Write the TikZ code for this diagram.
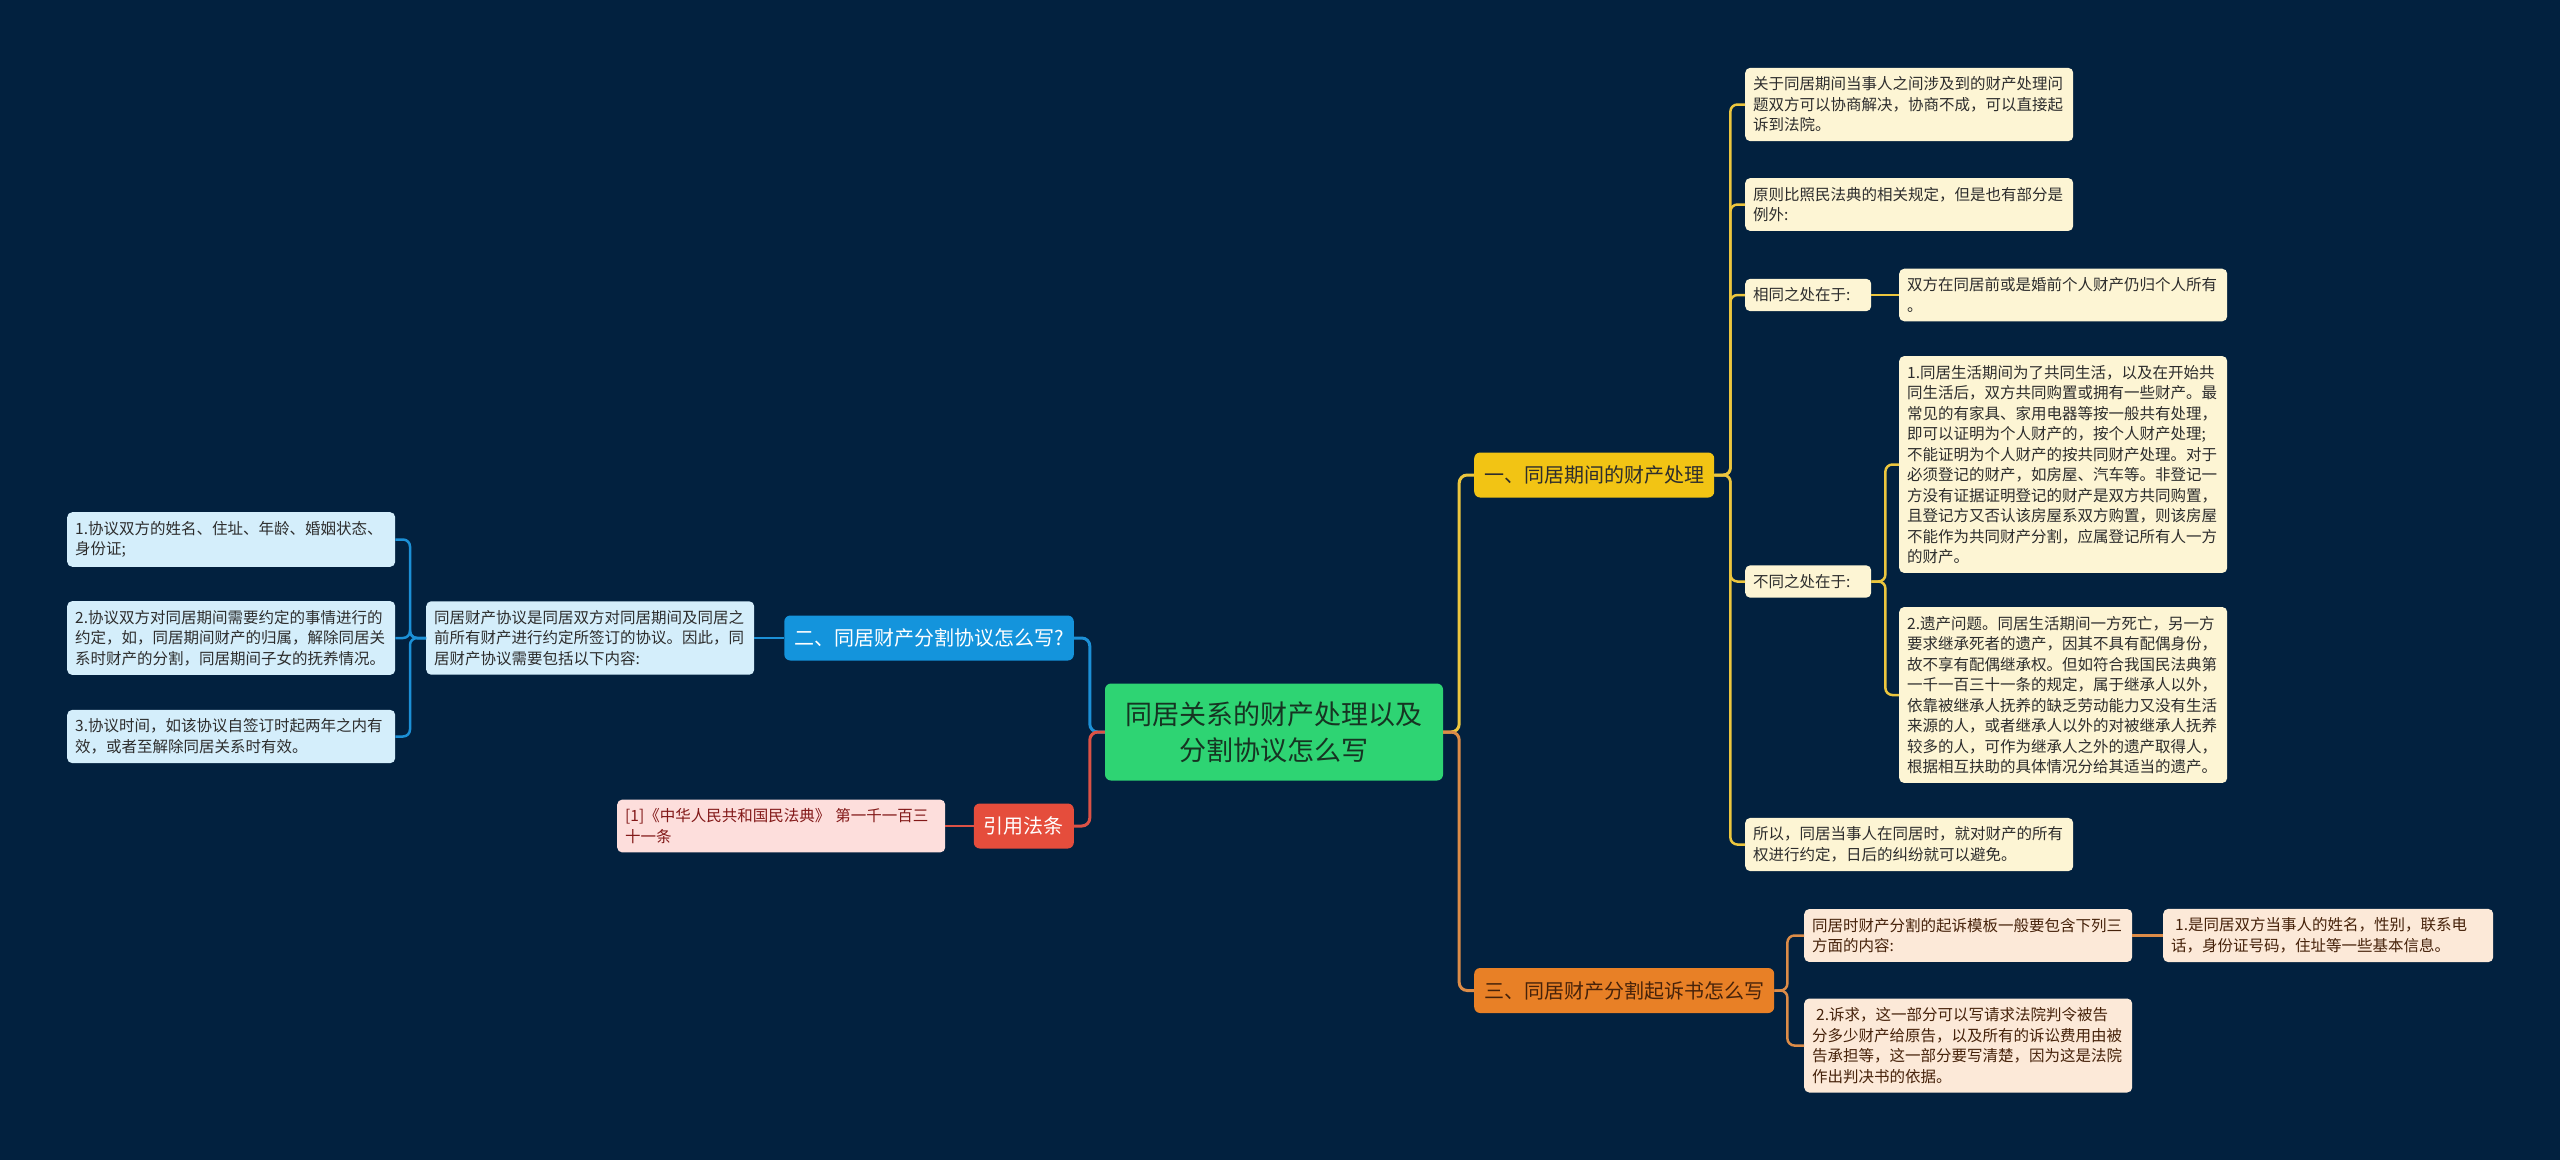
\documentclass[tikz,border=0pt]{standalone}
\usepackage{fontspec}
\setmainfont{Noto Sans CJK SC}
\usepackage{tikz}
\definecolor{bg}{RGB}{2,33,63}
\definecolor{rootfill}{RGB}{46,212,115}
\definecolor{roottext}{RGB}{22,52,34}
\definecolor{yelnode}{RGB}{242,196,20}
\definecolor{yelleaf}{RGB}{253,245,212}
\definecolor{yelline}{RGB}{236,198,62}
\definecolor{ornode}{RGB}{232,128,38}
\definecolor{orleaf}{RGB}{252,233,216}
\definecolor{orline}{RGB}{220,140,72}
\definecolor{ortext}{RGB}{70,34,10}
\definecolor{blnode}{RGB}{20,148,220}
\definecolor{blleaf}{RGB}{212,238,251}
\definecolor{blline}{RGB}{28,144,214}
\definecolor{rdnode}{RGB}{229,77,60}
\definecolor{rdleaf}{RGB}{253,222,220}
\definecolor{rdline}{RGB}{220,82,70}
\definecolor{rdtext}{RGB}{130,24,24}
\definecolor{leaftext}{RGB}{45,45,45}
\tikzset{
  rootbox/.style={fill=rootfill,text=roottext,rounded corners=6pt,minimum width=338pt,minimum height=97pt,align=center,font=\fontsize{27}{36}\selectfont},
  branch/.style={rounded corners=6pt,inner xsep=10pt,minimum height=45pt,font=\fontsize{20}{24}\selectfont},
  leaf/.style={rounded corners=5pt,inner xsep=8pt,inner ysep=9pt,text width=312pt,align=left,anchor=west,text=leaftext,font=\fontsize{15.5}{20.5}\selectfont},
  shortleaf/.style={leaf,text width=110pt},
  trunk/.style={line width=3pt,rounded corners=8pt},
  twig/.style={line width=2.5pt,rounded corners=7pt}
}
\begin{document}
\begin{tikzpicture}[x=1pt,y=-1pt]
\fill[bg] (0,0) rectangle (2560,1160);
\node[rootbox] (root) at (1274,732) {同居关系的财产处理以及\\分割协议怎么写};
\node[branch,fill=yelnode,text=leaftext,anchor=west] (part1) at (1474,475) {一、同居期间的财产处理};
\node[branch,fill=ornode,text=ortext,anchor=west] (part3) at (1474,990.5) {三、同居财产分割起诉书怎么写};
\node[branch,fill=blnode,text=white,anchor=east] (part2) at (1074,638) {二、同居财产分割协议怎么写?};
\node[branch,fill=rdnode,text=white,anchor=east] (cite) at (1074,826) {引用法条};

\node[leaf,fill=yelleaf] (sameA) at (1745,104.5) {关于同居期间当事人之间涉及到的财产处理问\\题双方可以协商解决，协商不成，可以直接起\\诉到法院。};
\node[leaf,fill=yelleaf] (sameB) at (1745,204.5) {原则比照民法典的相关规定，但是也有部分是\\例外:};
\node[shortleaf,fill=yelleaf] (same) at (1745,295) {相同之处在于:};
\node[leaf,fill=yelleaf] (sameC) at (1899,295) {双方在同居前或是婚前个人财产仍归个人所有\\。};
\node[shortleaf,fill=yelleaf] (diff) at (1745,581.5) {不同之处在于:};
\node[leaf,fill=yelleaf] (diffA) at (1899,464.5) {1.同居生活期间为了共同生活，以及在开始共\\同生活后，双方共同购置或拥有一些财产。最\\常见的有家具、家用电器等按一般共有处理，\\即可以证明为个人财产的，按个人财产处理;\\不能证明为个人财产的按共同财产处理。对于\\必须登记的财产，如房屋、汽车等。非登记一\\方没有证据证明登记的财产是双方共同购置，\\且登记方又否认该房屋系双方购置，则该房屋\\不能作为共同财产分割，应属登记所有人一方\\的财产。};
\node[leaf,fill=yelleaf] (diffB) at (1899,695) {2.遗产问题。同居生活期间一方死亡，另一方\\要求继承死者的遗产，因其不具有配偶身份，\\故不享有配偶继承权。但如符合我国民法典第\\一千一百三十一条的规定，属于继承人以外，\\依靠被继承人抚养的缺乏劳动能力又没有生活\\来源的人，或者继承人以外的对被继承人抚养\\较多的人，可作为继承人之外的遗产取得人，\\根据相互扶助的具体情况分给其适当的遗产。};
\node[leaf,fill=yelleaf] (sameD) at (1745,844.5) {所以，同居当事人在同居时，就对财产的所有\\权进行约定，日后的纠纷就可以避免。};

\node[leaf,fill=orleaf,text=ortext] (sueA) at (1804,935.5) {同居时财产分割的起诉模板一般要包含下列三\\方面的内容:};
\node[leaf,fill=orleaf,text=ortext,text width=314pt] (sueB) at (2163,935.5) {\hspace*{4pt}1.是同居双方当事人的姓名，性别，联系电\\话，身份证号码，住址等一些基本信息。};
\node[leaf,fill=orleaf,text=ortext] (sueC) at (1804,1045.5) {\hspace*{4pt}2.诉求，这一部分可以写请求法院判令被告\\分多少财产给原告，以及所有的诉讼费用由被\\告承担等，这一部分要写清楚，因为这是法院\\作出判决书的依据。};

\node[leaf,fill=blleaf] (deal) at (426,638) {同居财产协议是同居双方对同居期间及同居之\\前所有财产进行约定所签订的协议。因此，同\\居财产协议需要包括以下内容:};
\node[leaf,fill=blleaf] (dealA) at (67,539.5) {1.协议双方的姓名、住址、年龄、婚姻状态、\\身份证;};
\node[leaf,fill=blleaf] (dealB) at (67,638) {2.协议双方对同居期间需要约定的事情进行的\\约定，如，同居期间财产的归属，解除同居关\\系时财产的分割，同居期间子女的抚养情况。};
\node[leaf,fill=blleaf] (dealC) at (67,736.5) {3.协议时间，如该协议自签订时起两年之内有\\效，或者至解除同居关系时有效。};

\node[leaf,fill=rdleaf,text=rdtext] (law) at (617,826) {[1]《中华人民共和国民法典》 第一千一百三\\十一条};

\draw[yelline,trunk] (root.east) -- ++(16,0) |- (part1.west);
\draw[orline,trunk] (root.east) -- ++(16,0) |- (part3.west);
\draw[blline,trunk] (root.west) -- ++(-15,0) |- (part2.east);
\draw[rdline,trunk] (root.west) -- ++(-15,0) |- (cite.east);

\foreach \leafname in {sameA,sameB,same,diff,sameD}
  \draw[yelline,twig] (part1.east) -- ++(16,0) |- (\leafname.west);
\draw[yelline,twig] (same.east) -- (sameC.west);
\draw[yelline,twig] (diff.east) -- ++(14,0) |- (diffA.west);
\draw[yelline,twig] (diff.east) -- ++(14,0) |- (diffB.west);

\draw[orline,twig] (part3.east) -- ++(13,0) |- (sueA.west);
\draw[orline,twig] (part3.east) -- ++(13,0) |- (sueC.west);
\draw[orline,twig] (sueA.east) -- (sueB.west);

\draw[blline,twig] (part2.west) -- (deal.east);
\foreach \leafname in {dealA,dealB,dealC}
  \draw[blline,twig] (deal.west) -- ++(-16,0) |- (\leafname.east);

\draw[rdline,twig] (cite.west) -- (law.east);
\end{tikzpicture}
\end{document}
